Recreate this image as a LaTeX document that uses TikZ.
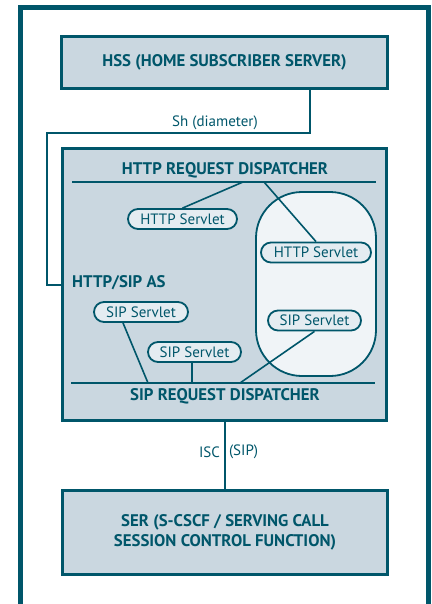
\documentclass[tikz,border=0pt]{standalone}
\usepackage{fontspec}
\setmainfont{PT Sans}
\usetikzlibrary{positioning}

\definecolor{asteal}{RGB}{0,86,106}
\definecolor{asfill}{RGB}{202,215,224}
\definecolor{jvmfill}{RGB}{240,244,247}
\definecolor{servfill}{RGB}{228,236,241}

\newcommand{\capsfont}{\fontsize{16.8}{19.5}\selectfont\bfseries}
\newcommand{\servfont}{\fontsize{15}{17}\selectfont}

\begin{document}
\begin{tikzpicture}[x=1pt, y=-1pt,
    every node/.style={text=asteal},
    box/.style={draw=asteal, line width=3pt, fill=asfill, inner sep=0pt, font=\capsfont, align=center},
    servlet/.style={draw=asteal, line width=1.8pt, fill=servfill, rounded corners=10pt, minimum height=20pt, inner sep=0pt, font=\servfont},
    link/.style={draw=asteal, line width=2pt},
    thin link/.style={draw=asteal, line width=1.6pt}]

    \useasboundingbox (0,0) rectangle (431,604);
    \draw[asteal, line width=5pt] (20.5,604) -- (20.5,7.5) -- (428,7.5) -- (428,604);

    \node[box, minimum width=326, minimum height=52] (hss) at (224.5,62.5) {HSS (HOME SUBSCRIBER SERVER)};
    \node[box, minimum width=324, minimum height=272] (as) at (224.5,284.5) {};
    \node[box, minimum width=325, minimum height=84] (ser) at (225,532.5) {SER (S-CSCF / SERVING CALL\\SESSION CONTROL FUNCTION)};

    % container inside the AS
    \filldraw[draw=asteal, line width=1.8pt, fill=jvmfill, rounded corners=46pt] (256,192) rectangle (376,376);

    \node[font=\capsfont] (httpdisp) at (225,170) {HTTP REQUEST DISPATCHER};
    \node[font=\capsfont] (sipdisp) at (225,396.5) {SIP REQUEST DISPATCHER};
    \node[font=\capsfont, anchor=west, inner sep=0pt] (aslabel) at (72,283) {HTTP/SIP AS};

    \coordinate (hl) at (72,182);
    \coordinate (hr) at (376,182);
    \coordinate (sl) at (71,383);
    \coordinate (sr) at (375,383);
    \draw[thin link] (hl) -- (hr);
    \draw[thin link] (sl) -- (sr);

    \coordinate (hd1) at (243,182);
    \coordinate (hd2) at (264,182);
    \coordinate (sd1) at (148,383);
    \coordinate (sd2) at (192,383);
    \coordinate (sd3) at (240,383);

    \node[servlet, minimum width=109] (hs1) at (182.5,219) {HTTP Servlet};
    \node[servlet, minimum width=110] (hs2) at (316,252.5) {HTTP Servlet};
    \node[servlet, minimum width=94] (ss1) at (141,312) {SIP Servlet};
    \node[servlet, minimum width=93] (ss2) at (194.5,352) {SIP Servlet};
    \node[servlet, minimum width=93] (ss3) at (314.5,320.5) {SIP Servlet};

    \draw[thin link] (hd1) -- (hs1.north);
    \draw[thin link] (hd2) -- (hs2.north);
    \draw[thin link] (ss1.south -| 123,0) -- (sd1);
    \draw[thin link] (ss2.south -| sd2) -- (sd2);
    \draw[thin link] (ss3.south) -- (sd3);

    % Sh and ISC interfaces
    \coordinate (shx) at (310,0);
    \coordinate (shbend) at (47,133);
    \draw[link] (hss.south -| shx) |- (shbend) |- (as.west);
    \node[font=\servfont] (shlabel) at (215,123) {Sh (diameter)};

    \draw[link] (as.south -| ser.north) -- node[pos=0.45, left, font=\servfont, inner sep=4pt] (isc) {ISC} node[pos=0.45, right, font=\servfont, inner sep=3pt] (iscsip) {(SIP)} (ser.north);
\end{tikzpicture}
\end{document}
